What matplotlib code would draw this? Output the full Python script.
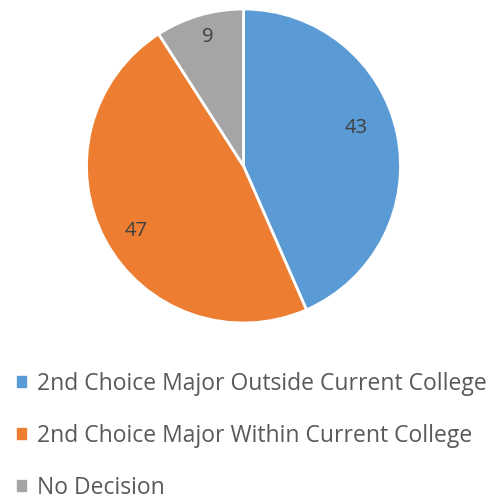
import matplotlib
matplotlib.use("Agg")
import matplotlib.pyplot as plt
import numpy as np

categories = ["2nd Choice Major Outside Current College",
              "2nd Choice Major Within Current College",
              "No Decision"]
values = [43, 47, 9]
colors = ["#5B9BD5", "#ED7D31", "#A5A5A5"]

plt.rcParams['font.family'] = ['Open Sans', 'DejaVu Sans']

W, H = 492, 501
fig = plt.figure(figsize=(W / 100, H / 100), dpi=100)
cx, cy, r = 243.5, 166, 157
ax = fig.add_axes([(cx - r) / W, (H - cy - r) / H, 2 * r / W, 2 * r / H])
wedges, _ = ax.pie(values, colors=colors, startangle=90, counterclock=False,
                   radius=1, wedgeprops=dict(edgecolor="white", linewidth=2))
ax.set_xlim(-1.0, 1.0)
ax.set_ylim(-1.0, 1.0)
ax.set_aspect("equal")
ax.axis("off")

# label placement (angle shift in degrees, radius)
label_pos = [(7, 0.76), (3, 0.80), (-1, 0.85)]
for w, v, (da, rr) in zip(wedges, values, label_pos):
    ang = np.deg2rad((w.theta1 + w.theta2) / 2 + da)
    ax.text(rr * np.cos(ang), rr * np.sin(ang), str(v), ha="center", va="center",
            fontsize=14.5, color="#404040")

handles = [plt.Rectangle((0, 0), 1, 1, color=c) for c in colors]
leg = fig.legend(handles, categories, loc="upper left",
                 bbox_to_anchor=(17 / W, 1 - 372 / H), frameon=False,
                 fontsize=16.5, labelcolor="#595959", handlelength=0.38,
                 handleheight=0.38, handletextpad=0.5, labelspacing=1.22,
                 borderaxespad=0, borderpad=0)
fig.savefig("out.png", dpi=100)
